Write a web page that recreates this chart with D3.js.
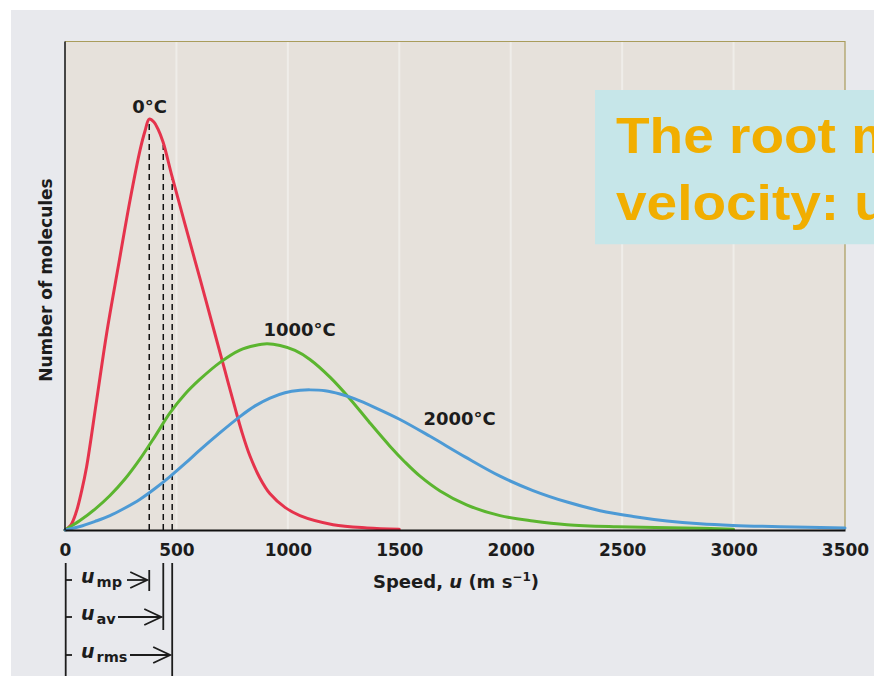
<!DOCTYPE html>
<html>
<head>
<meta charset="utf-8">
<script src="https://cdn.jsdelivr.net/npm/d3@7"></script>
<style>
  html, body { margin: 0; padding: 0; background: #ffffff; }
  svg { display: block; }
</style>
</head>
<body>
<svg id="chart" width="874" height="676"></svg>
<script>
// ---- data -------------------------------------------------------------
const speedTicks = [0, 500, 1000, 1500, 2000, 2500, 3000, 3500];
const temperatures = ["0°C", "1000°C", "2000°C"];

// [speed u (m/s), relative number of molecules]  (0°C peak = 100)
const n0C = [
  [0, 0], [25, 1.1], [50, 4.3], [75, 9.6], [97, 15.4], [142, 31.6], [187, 47.9],
  [239, 64.1], [292, 80.3], [337, 92.5], [359, 97.1], [378, 100],
  [399, 99.3], [417, 97.6], [440, 94.4], [480, 86.1], [538, 74.5],
  [606, 61.1], [673, 47.7], [718, 38.7], [763, 29.7], [794, 23.8],
  [830, 18.0], [875, 12.6], [920, 8.8], [987, 5.5], [1054, 3.5],
  [1203, 1.3], [1355, 0.5], [1500, 0.2]
];
const n1000C = [
  [0, 0], [67, 2.3], [135, 5.1], [202, 8.4], [269, 12.4], [337, 17.3],
  [404, 22.8], [471, 28.5], [539, 33.1], [606, 36.7], [696, 40.8],
  [785, 43.8], [853, 44.9], [906, 45.3], [965, 44.9], [1032, 43.7],
  [1099, 41.5], [1189, 37.2], [1279, 31.9], [1369, 26.0], [1458, 20.4],
  [1526, 16.5], [1593, 13.1], [1683, 9.5], [1802, 6.1], [1952, 3.5],
  [2100, 2.2], [2253, 1.3], [2477, 0.8], [2849, 0.4], [3000, 0.2]
];
const n2000C = [
  [0, 0], [67, 0.85], [135, 2.1], [202, 3.5], [269, 5.35], [337, 7.5],
  [404, 10.1], [471, 13.0], [539, 16.2], [606, 19.5], [696, 23.7],
  [785, 27.6], [853, 30.2], [920, 32.1], [987, 33.4], [1055, 34.0],
  [1099, 34.1], [1167, 33.9], [1234, 33.1], [1301, 31.9], [1391, 29.8],
  [1503, 26.9], [1638, 22.8], [1795, 17.8], [1952, 13.1], [2100, 9.6],
  [2253, 6.8], [2401, 4.7], [2549, 3.3], [2701, 2.2], [2849, 1.5],
  [2997, 1.1], [3208, 0.8], [3500, 0.5]
];

// characteristic speeds of the 0°C curve (m/s)
const speedKinds = ["mp", "av", "rms"];
const speedValues = [378, 441, 481];

// ---- layout & style -----------------------------------------------------
const W = 874, H = 676;
const series = [n0C, n1000C, n2000C];
const colors = ["#e5334c", "#5bb52f", "#4d9ad5"];
const labelPos = [[380, 101.5], [1053, 47.2], [1771, 25.5]];   // label anchors (data space)
const labelFont = "'DejaVu Sans', Verdana, sans-serif";

const x = d3.scaleLinear().domain([0, 3500]).range([65, 845]);
const y = d3.scaleLinear().domain([0, 119]).range([530, 41]);

const svg = d3.select("#chart");

// page / paper tones
svg.append("rect").attr("x", 11).attr("y", 10)
  .attr("width", W - 11).attr("height", H - 10).attr("fill", "#e8e9ed");

// plot panel
svg.append("rect")
  .attr("x", x(0)).attr("y", y(119))
  .attr("width", x(3500) - x(0)).attr("height", y(0) - y(119))
  .attr("fill", "#e6e1db");

// vertical grid
svg.append("g").selectAll("line")
  .data(speedTicks.slice(1, -1)).join("line")
  .attr("x1", d => x(d)).attr("x2", d => x(d))
  .attr("y1", y(119)).attr("y2", y(0))
  .attr("stroke", "#efede9").attr("stroke-width", 2);

// thin top/right frame
svg.append("path")
  .attr("d", `M${x(0)},${y(119) + 0.5}H${x(3500)}V${y(0)}`)
  .attr("fill", "none").attr("stroke", "#a99c5c").attr("stroke-width", 1.2);

// dashed markers from the baseline to the 0°C curve
const bis = d3.bisector(d => d[0]).left;
function valueAt(data, u) {
  const i = bis(data, u);
  if (i <= 0) return data[0][1];
  const a = data[i - 1], b = data[i];
  const t = (u - a[0]) / (b[0] - a[0]);
  return a[1] + t * (b[1] - a[1]);
}
svg.append("g").selectAll("line")
  .data(speedValues).join("line")
  .attr("x1", d => x(d)).attr("x2", d => x(d))
  .attr("y1", y(0)).attr("y2", d => y(valueAt(n0C, d)) + 2)
  .attr("stroke", "#111").attr("stroke-width", 1.5)
  .attr("stroke-dasharray", "6,4");

// distribution curves
const line = d3.line()
  .x(d => x(d[0])).y(d => y(d[1]))
  .curve(d3.curveCatmullRom.alpha(0.5));
svg.append("g").selectAll("path")
  .data(series).join("path")
  .attr("d", line)
  .attr("fill", "none")
  .attr("stroke", (d, i) => colors[i])
  .attr("stroke-width", 3)
  .attr("stroke-linecap", "round");

// curve labels
svg.append("g").selectAll("text")
  .data(temperatures).join("text")
  .attr("x", (d, i) => x(labelPos[i][0]))
  .attr("y", (d, i) => y(labelPos[i][1]))
  .attr("text-anchor", "middle")
  .attr("font-family", labelFont).attr("font-weight", "bold")
  .attr("font-size", 18).attr("fill", "#1c1c1c")
  .text(d => d);

// axes
const xAxis = svg.append("g")
  .attr("transform", `translate(0,${y(0)})`)
  .call(d3.axisBottom(x).tickValues(speedTicks).tickSize(0).tickSizeOuter(0)
    .tickFormat(d3.format("d")));
xAxis.select(".domain").attr("stroke", "#111").attr("stroke-width", 2);
xAxis.selectAll("text")
  .attr("y", 26).attr("dy", null)
  .attr("font-family", labelFont).attr("font-weight", "bold")
  .attr("font-size", 17).attr("fill", "#1c1c1c");

const yAxis = svg.append("g")
  .attr("transform", `translate(${x(0) - 0.5},0)`)
  .call(d3.axisLeft(y).tickValues([]).tickSize(0).tickSizeOuter(0));
yAxis.select(".domain").attr("stroke", "#111").attr("stroke-width", 1.5);

// axis titles
svg.append("text")
  .attr("transform", "translate(52,280) rotate(-90)")
  .attr("text-anchor", "middle")
  .attr("font-family", labelFont).attr("font-weight", "bold")
  .attr("font-size", 17).attr("fill", "#1c1c1c")
  .text("Number of molecules");

const xt = svg.append("text")
  .attr("x", 456).attr("y", 588)
  .attr("text-anchor", "middle")
  .attr("font-family", labelFont).attr("font-weight", "bold")
  .attr("font-size", 18).attr("fill", "#1c1c1c");
xt.append("tspan").text("Speed, ");
xt.append("tspan").attr("font-style", "italic").text("u");
xt.append("tspan").text(" (m s");
xt.append("tspan").attr("font-size", 12).attr("dy", -7).text("\u22121");
xt.append("tspan").attr("dy", 7).text(")");

// speed brackets under the axis
const rowY = [583, 620, 658];        // label baselines
const arrowStart = [127, 118, 130];  // arrow tail x
const ink = "#1c1c1c";
const ann = svg.append("g").attr("stroke", ink).attr("stroke-width", 1.8).attr("fill", "none");
ann.append("line").attr("x1", x(0) + 0.7).attr("x2", x(0) + 0.7)
  .attr("y1", 563).attr("y2", H);
const stopTop = [570, 563, 563], stopBot = [591, 630, H];
speedValues.forEach((u, i) => {
  const xs = x(u);
  ann.append("line").attr("x1", xs).attr("x2", xs)
    .attr("y1", stopTop[i]).attr("y2", stopBot[i]);
  const ay = rowY[i] - 3;
  ann.append("line").attr("x1", x(0) + 0.7).attr("x2", x(0) + 7)
    .attr("y1", ay).attr("y2", ay);
  ann.append("line").attr("x1", arrowStart[i]).attr("x2", xs - 2)
    .attr("y1", ay).attr("y2", ay);
  ann.append("path")
    .attr("d", `M${xs - 19},${ay - 8}L${xs - 2},${ay}L${xs - 19},${ay + 8}`);
  const t = svg.append("text")
    .attr("x", 81).attr("y", rowY[i])
    .attr("font-family", labelFont).attr("font-weight", "bold")
    .attr("fill", ink);
  t.append("tspan").attr("font-style", "italic").attr("font-size", 19).text("u");
  t.append("tspan").attr("font-size", 14.5).attr("dx", 2).attr("dy", 3.5).text(speedKinds[i]);
});

// caption box (runs off the right edge of the page)
svg.append("defs").append("clipPath").attr("id", "captionClip")
  .append("rect").attr("x", 595).attr("y", 90).attr("width", W - 595).attr("height", 154.5);
const cap = svg.append("g").attr("clip-path", "url(#captionClip)");
cap.append("rect")
  .attr("x", 595).attr("y", 90).attr("width", W - 595).attr("height", 154.5)
  .attr("fill", "#c6e6e9");
const capFont = "'Liberation Sans', Arial, sans-serif";
cap.append("text")
  .attr("transform", "translate(616,152.7) scale(1.1,1)")
  .attr("font-family", capFont).attr("font-weight", "bold").attr("font-size", 50)
  .attr("fill", "#f1ae00")
  .text("The root mean square");
const l2 = cap.append("text")
  .attr("transform", "translate(616,219.5) scale(1.1,1)")
  .attr("font-family", capFont).attr("font-weight", "bold").attr("font-size", 50)
  .attr("fill", "#f1ae00");
l2.append("tspan").text("velocity: u");
l2.append("tspan").attr("font-size", 32).attr("dy", 8).text("rms");
</script>
</body>
</html>
